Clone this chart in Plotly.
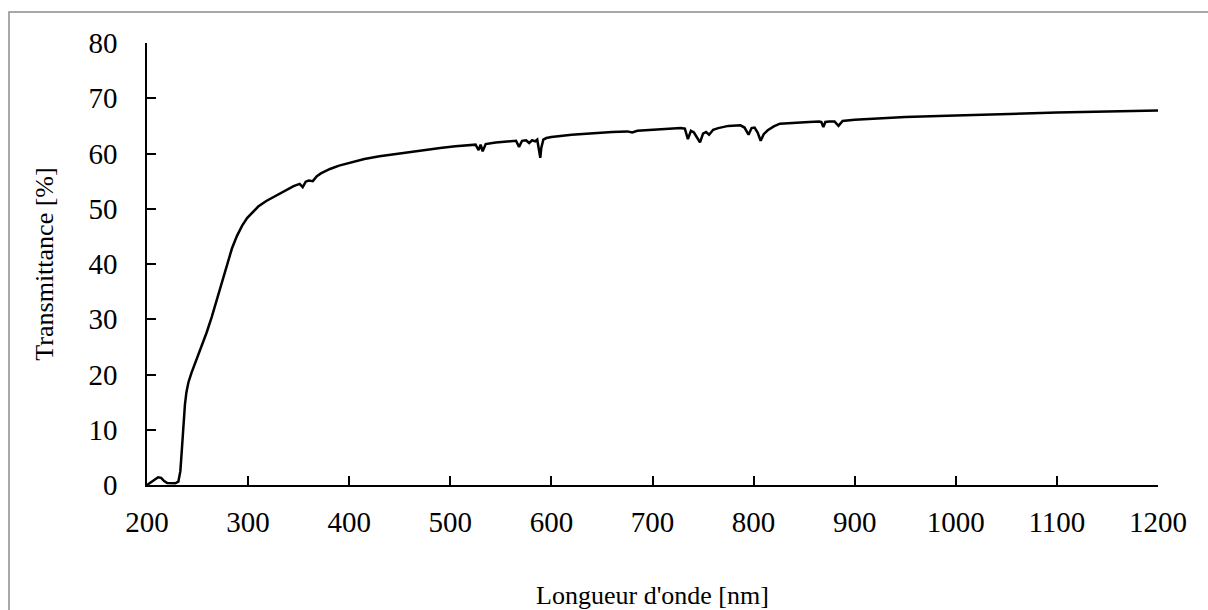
import plotly.graph_objects as go

# Transmission spectrum: wavelength (nm) and transmittance (%)
wavelength = [200, 204, 208, 211, 214, 217, 220, 224, 228, 231, 233, 234.5, 236, 237.5, 239,
              241, 244, 248, 253, 259, 264, 269, 274, 279, 284, 289, 294, 299, 305, 310,
              318, 325, 335, 345, 351, 354, 357, 360, 364, 368, 372, 381, 390, 400, 415,
              430, 445, 460, 475, 490, 505, 520, 525, 528, 530, 532, 535, 545, 555, 565,
              568, 571, 575, 578, 581, 584, 586, 588, 589, 590, 592, 595, 600, 620, 640,
              660, 675, 680, 685, 700, 715, 728, 732, 735, 738, 741, 744, 747, 750, 753,
              756, 760, 765, 775, 787, 791, 795, 798, 801, 804, 807, 810, 814, 820, 826,
              840, 855, 865, 867, 869, 871, 875, 880, 884, 888, 900, 950, 1000, 1050, 1100,
              1150, 1200]

transmittance = [0.0, 0.5, 1.1, 1.4, 1.3, 0.7, 0.35, 0.3, 0.3, 0.6, 2.5, 6.5, 11.0, 14.5, 16.8,
                 18.6, 20.3, 22.2, 24.6, 27.6, 30.4, 33.6, 36.8, 40.0, 42.8, 45.1, 46.9, 48.3, 49.5, 50.4,
                 51.4, 52.1, 53.0, 54.1, 54.5, 53.9, 54.9, 55.1, 55.0, 55.9, 56.4, 57.2, 57.8, 58.3, 59.0,
                 59.5, 59.9, 60.2, 60.6, 61.0, 61.3, 61.5, 61.6, 60.6, 61.6, 60.4, 61.7, 62.0, 62.2, 62.3,
                 61.2, 62.3, 62.4, 61.9, 62.4, 62.2, 62.5, 60.5, 59.2, 61.0, 62.5, 62.8, 63.0, 63.4, 63.7,
                 63.9, 64.0, 63.8, 64.1, 64.3, 64.5, 64.6, 64.5, 62.6, 64.1, 63.8, 62.9, 62.0, 63.6, 63.9,
                 63.4, 64.3, 64.6, 65.0, 65.1, 64.7, 63.4, 64.6, 64.7, 63.8, 62.3, 63.5, 64.2, 64.9, 65.4,
                 65.6, 65.7, 65.8, 65.7, 64.8, 65.7, 65.8, 65.8, 65.0, 65.9, 66.1, 66.6, 66.9, 67.2, 67.4,
                 67.6, 67.8]

x_ticks = [200, 300, 400, 500, 600, 700, 800, 900, 1000, 1100, 1200]
y_ticks = [0, 10, 20, 30, 40, 50, 60, 70, 80]

FONT = "Liberation Serif"
TICK_SIZE = 29
TITLE_SIZE = 26

fig = go.Figure()
fig.add_trace(go.Scatter(
    x=wavelength, y=transmittance, mode="lines",
    line=dict(color="black", width=2.5),
    showlegend=False, hoverinfo="x+y",
))

axis_common = dict(
    showgrid=False, zeroline=False, showline=True, linecolor="black", linewidth=1.5,
    ticks="inside", ticklen=9, tickwidth=1.5, tickcolor="black",
    tickfont=dict(family=FONT, size=TICK_SIZE, color="black"),
    automargin=False,
)

fig.update_xaxes(
    range=[200, 1200], tickvals=x_ticks, ticktext=[str(v) for v in x_ticks],
    ticklabelstandoff=10,
    title=dict(text="Longueur d'onde [nm]", font=dict(family=FONT, size=TITLE_SIZE, color="black"), standoff=55),
    **axis_common,
)
fig.update_yaxes(
    range=[0, 80], tickvals=y_ticks, ticktext=[str(v) for v in y_ticks],
    ticklabelstandoff=22,
    title=dict(text="Transmittance [%]", font=dict(family=FONT, size=TITLE_SIZE, color="black"), standoff=27),
    **axis_common,
)

# Outer chart frame
fig.add_shape(
    type="rect", xref="paper", yref="paper",
    x0=-0.1365, x1=1.06, y0=-0.30, y1=1.0701,
    line=dict(color="#8c8c8c", width=1.5), fillcolor="rgba(0,0,0,0)", layer="below",
)

fig.update_layout(
    width=1208, height=610,
    margin=dict(l=147, r=50, t=43, b=125),
    paper_bgcolor="white", plot_bgcolor="white",
    font=dict(family=FONT, color="black"),
)

fig.write_html("out.html")
